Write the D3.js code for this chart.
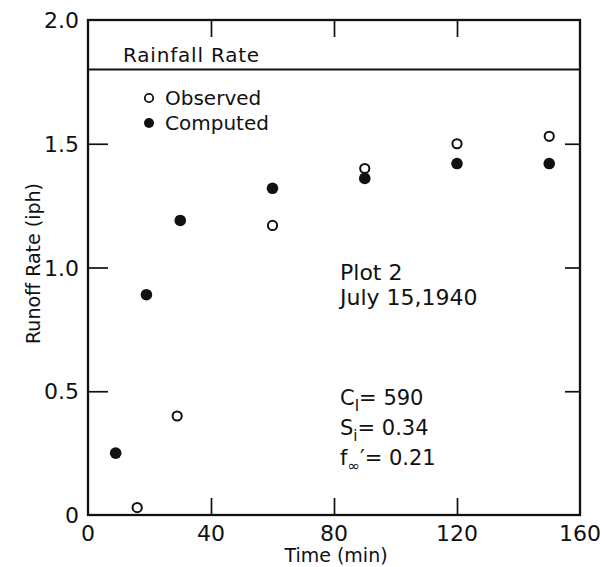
<!DOCTYPE html>
<html>
<head>
<meta charset="utf-8">
<script src="https://cdn.jsdelivr.net/npm/d3@7"></script>
<style>
  body { margin: 0; background: #fff; }
  text { font-family: "DejaVu Sans", "Liberation Sans", sans-serif; fill: #111; }
</style>
</head>
<body>
<svg id="chart" width="605" height="567"></svg>
<script>
var observedTime = [16, 29, 60, 90, 120, 150],
    observedRate = [0.03, 0.40, 1.17, 1.40, 1.50, 1.53];
var computedTime = [9, 19, 30, 60, 90, 120, 150],
    computedRate = [0.25, 0.89, 1.19, 1.32, 1.36, 1.42, 1.42];
var xTicks = [0, 40, 80, 120, 160],
    yTicks = [0, 0.5, 1.0, 1.5, 2.0],
    yTickLabels = ["0", "0.5", "1.0", "1.5", "2.0"];
var rainfallRate = 1.8;

(function runoff() {
    var svg = d3.select("#chart"),
        margin = {top: 20, right: 25, bottom: 52, left: 88},
        width = +svg.attr("width") - margin.left - margin.right,
        height = +svg.attr("height") - margin.top - margin.bottom,
        g = svg.append("g").attr("transform", "translate(" + margin.left + "," + margin.top + ")");

    var x = d3.scaleLinear().domain([0, 160]).range([0, width]);
    var y = d3.scaleLinear().domain([0, 2.0]).range([height, 0]);

    var inner = xTicks.slice(1, -1), innerY = yTicks.slice(1, -1);

    // inward ticks on all four sides
    var bottom = g.append("g")
        .attr("transform", "translate(0," + height + ")")
        .call(d3.axisBottom(x).tickValues(inner).tickSize(-17).tickFormat(""));
    var top = g.append("g")
        .call(d3.axisTop(x).tickValues(inner).tickSize(-17).tickFormat(""));
    var left = g.append("g")
        .call(d3.axisLeft(y).tickValues(innerY).tickSize(-20).tickFormat(""));
    var right = g.append("g")
        .attr("transform", "translate(" + width + ",0)")
        .call(d3.axisRight(y).tickValues(innerY).tickSize(-15).tickFormat(""));

    [bottom, top, left, right].forEach(function(a) {
        a.select(".domain").remove();
        a.selectAll("line").attr("stroke", "#111").attr("stroke-width", 1.7);
    });

    g.append("rect")
        .attr("width", width)
        .attr("height", height)
        .attr("fill", "none")
        .attr("stroke", "#111")
        .attr("stroke-width", 2.3);

    // tick labels
    g.selectAll(".xl").data(xTicks).enter().append("text")
        .attr("x", function(d) { return x(d); })
        .attr("y", height + 26)
        .attr("text-anchor", "middle")
        .style("font-size", "22px")
        .text(function(d) { return d; });

    g.selectAll(".yl").data(yTicks).enter().append("text")
        .attr("x", -9)
        .attr("y", function(d) { return y(d) + 8; })
        .attr("text-anchor", "end")
        .style("font-size", "22px")
        .text(function(d, i) { return yTickLabels[i]; });

    svg.append("text")
        .attr("x", margin.left + width / 2 + 2)
        .attr("y", 562)
        .attr("text-anchor", "middle")
        .style("font-size", "19px")
        .text("Time (min)");

    svg.append("text")
        .attr("transform", "translate(40," + (margin.top + height / 2 - 4) + ") rotate(-90)")
        .attr("text-anchor", "middle")
        .style("font-size", "19px")
        .text("Runoff  Rate  (iph)");

    // rainfall rate line
    g.append("line")
        .attr("x1", 0).attr("x2", width)
        .attr("y1", y(rainfallRate)).attr("y2", y(rainfallRate))
        .attr("stroke", "#111").attr("stroke-width", 2.2);
    g.append("text")
        .attr("x", 35).attr("y", y(rainfallRate) - 8)
        .style("font-size", "20px")
        .style("letter-spacing", "0.8px")
        .text("Rainfall  Rate");

    // points
    g.selectAll(".obs").data(observedTime).enter().append("circle")
        .attr("cx", function(d) { return x(d); })
        .attr("cy", function(d, i) { return y(observedRate[i]); })
        .attr("r", 4.6)
        .attr("fill", "#fff")
        .attr("stroke", "#111")
        .attr("stroke-width", 2);

    g.selectAll(".cmp").data(computedTime).enter().append("circle")
        .attr("cx", function(d) { return x(d); })
        .attr("cy", function(d, i) { return y(computedRate[i]); })
        .attr("r", 5.8)
        .attr("fill", "#111");

    // legend
    g.append("circle").attr("cx", 61).attr("cy", 78).attr("r", 4.2)
        .attr("fill", "#fff").attr("stroke", "#111").attr("stroke-width", 1.8);
    g.append("text").attr("x", 77).attr("y", 85).style("font-size", "20px").text("Observed");
    g.append("circle").attr("cx", 61).attr("cy", 103).attr("r", 5)
        .attr("fill", "#111");
    g.append("text").attr("x", 77).attr("y", 110).style("font-size", "20px").text("Computed");

    // annotations
    g.append("text").attr("x", 252).attr("y", 260).style("font-size", "22px").text("Plot  2");
    g.append("text").attr("x", 252).attr("y", 285).style("font-size", "22px").text("July 15,1940");

    var ann = [
        {main: "C", sub: "I", rest: "= 590", dy: 385},
        {main: "S", sub: "i", rest: "= 0.34", dy: 415},
        {main: "f", sub: "\u221e", rest: "\u2032= 0.21", dy: 445}
    ];
    ann.forEach(function(a) {
        var t = g.append("text").attr("x", 252).attr("y", a.dy).style("font-size", "21px");
        t.append("tspan").text(a.main);
        t.append("tspan").attr("dy", 6).style("font-size", "15px").text(a.sub);
        t.append("tspan").attr("dy", -6).text(a.rest);
    });
})();
</script>
</body>
</html>
